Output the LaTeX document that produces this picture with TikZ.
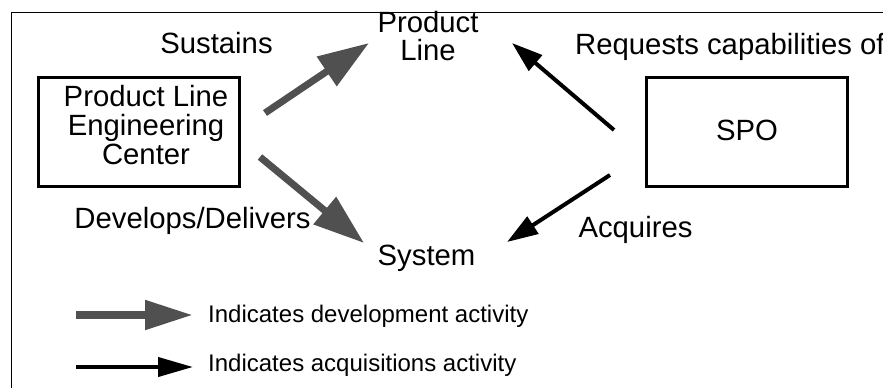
\documentclass[tikz,border=0pt]{standalone}
\usepackage{fontspec}
\setmainfont{Liberation Sans}
\usetikzlibrary{arrows.meta}
\definecolor{devgray}{RGB}{80,80,80}
\tikzset{
 lbl/.style={inner sep=0pt, font=\fontsize{29.3}{29}\selectfont, anchor=base},
 leg/.style={inner sep=0pt, font=\fontsize{24}{24}\selectfont, anchor=base west},
 boxnode/.style={draw, line width=3.5pt, inner sep=0pt},
 devarrow/.style={devgray, line width=7pt, -{Triangle[length=51pt,width=34pt]}},
 acqarrow/.style={black, line width=4pt, -{Triangle[length=31pt,width=20pt]}},
}
\begin{document}
\begin{tikzpicture}[x=1pt,y=-1pt]
\useasboundingbox (0,0) rectangle (883,388);
\draw[line width=1pt] (11,388) -- (11,12) -- (883,12);
% boxes
\node[boxnode, minimum width=201pt, minimum height=109pt] (plec) at (139,132) {};
\node[lbl, align=center, font=\fontsize{29.3}{29}\selectfont] (plect) at (146,164) {Product Line\\Engineering\\Center};
\node[boxnode, minimum width=201pt, minimum height=109pt] (spo) at (747,132) {};
\node[lbl] (spot) at (747,140) {SPO};
% labels
\node[lbl] (sustains) at (216.5,53) {Sustains};
\node[lbl, align=center, font=\fontsize{29.3}{27.5}\selectfont] (pl) at (428,60) {Product\\Line};
\node[lbl] (system) at (426.5,265) {System};
\node[lbl] (develops) at (192.5,228) {Develops/Delivers};
\node[lbl] (acquires) at (635.5,237) {Acquires};
\node[lbl, anchor=base west] (requests) at (575,54) {Requests capabilities of};
% arrows
\coordinate (a1s) at (265,113); \coordinate (a1e) at (369,43);
\coordinate (a2s) at (260,157); \coordinate (a2e) at (364,243);
\coordinate (a3s) at (614,130); \coordinate (a3e) at (512,43);
\coordinate (a4s) at (610,175); \coordinate (a4e) at (507,242);
\draw[devarrow] (a1s) -- (a1e);
\draw[devarrow] (a2s) -- (a2e);
\draw[acqarrow] (a3s) -- (a3e);
\draw[acqarrow] (a4s) -- (a4e);
% legend
\coordinate (l1s) at (76,315); \coordinate (l1e) at (193,315);
\coordinate (l2s) at (76,367); \coordinate (l2e) at (193,367);
\draw[devgray, line width=8pt, -{Triangle[length=48pt,width=28pt]}] (l1s) -- (l1e);
\draw[black, line width=4pt, -{Triangle[length=35pt,width=19pt]}] (l2s) -- (l2e);
\node[leg] (leg1) at (208,322) {Indicates development activity};
\node[leg] (leg2) at (208,371) {Indicates acquisitions activity};
\end{tikzpicture}
\end{document}
